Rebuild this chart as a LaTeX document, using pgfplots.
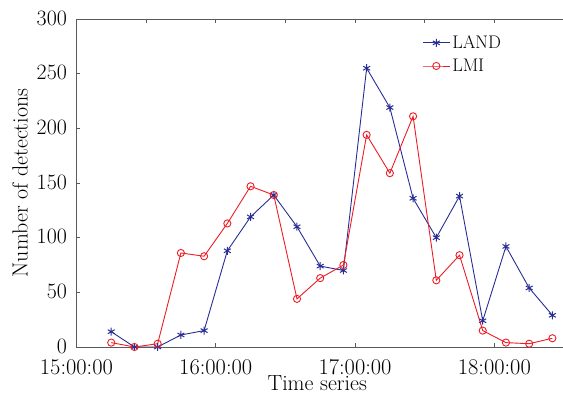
\documentclass[border=0pt]{standalone}
\usepackage{fontspec}
\usepackage{pgfplots}
\pgfplotsset{compat=1.18}
\definecolor{landblue}{RGB}{40,45,150}
\definecolor{lmired}{RGB}{237,28,36}
\definecolor{axgray}{RGB}{90,90,90}
\begin{document}
\begin{tikzpicture}
\useasboundingbox (-76.4bp,-48bp) rectangle (486.6bp,347bp);
\begin{axis}[
  scale only axis,
  width=487.6bp, height=328bp,
  xmin=0, xmax=210, ymin=0, ymax=300,
  xtick={0,60,120,180},
  xticklabels={15:00:00,16:00:00,17:00:00,18:00:00},
  xtick pos=bottom,
  ytick={0,50,100,150,200,250,300},
  ytick pos=left,
  /pgf/number format/assume math mode=true,
  tick align=inside,
  major tick length=4bp,
  axis line style={axgray, line width=0.9pt},
  every tick/.style={axgray, line width=0.8pt},
  yticklabel style={font=\fontsize{22}{24}\selectfont, xshift=-6bp, yshift=1bp},
  xticklabel style={font=\fontsize{22.5}{24}\selectfont, yshift=-9bp},
  label style={font=\fontsize{22}{24}\selectfont},
  ylabel={Number of detections},
  xlabel={\raisebox{0pt}[\height][0pt]{Time series}},
  xlabel style={anchor=south, at={(0.494,0)}, yshift=-44bp, inner sep=0pt},
  ylabel style={yshift=2bp},
  legend style={at={(0.705,0.962)}, anchor=north west, draw=none, fill=none,
    font=\fontsize{18.3}{21}\selectfont, row sep=5bp, inner sep=2bp},
  legend cell align=left,
  legend image code/.code={\draw[mark repeat=2,mark phase=2,#1] plot coordinates {(0bp,0bp) (13.5bp,0bp) (27bp,0bp)};},
]
\addplot[landblue, line width=0.9pt, mark=asterisk, mark size=4pt, mark options={line width=1pt}] coordinates {
(15,14) (25,0) (35,0) (45,11) (55,15) (65,88) (75,119) (85,139) (95,110) (105,74)
(115,70) (125,255) (135,219) (145,136) (155,100) (165,138) (175,24) (185,92) (195,54) (205,29)
};
\addlegendentry{LAND}
\addplot[lmired, line width=0.9pt, mark=o, mark size=3.6pt, mark options={line width=0.9pt}] coordinates {
(15,4) (25,0) (35,3) (45,86) (55,83) (65,113) (75,147) (85,139) (95,44) (105,63)
(115,75) (125,194) (135,159) (145,211) (155,61) (165,84) (175,15) (185,4) (195,3) (205,8)
};
\addlegendentry{LMI}
\end{axis}
\begin{axis}[
  scale only axis,
  width=487.6bp, height=328bp,
  xmin=0, xmax=210, ymin=0, ymax=300,
  axis x line*=top, axis y line=none,
  xtick={30,60,90,120,150,180},
  xticklabels={},
  tick align=inside,
  major tick length=4bp,
  axis line style={axgray, line width=0.9pt},
  every tick/.style={axgray, line width=0.8pt},
]
\end{axis}
\end{tikzpicture}
\end{document}
